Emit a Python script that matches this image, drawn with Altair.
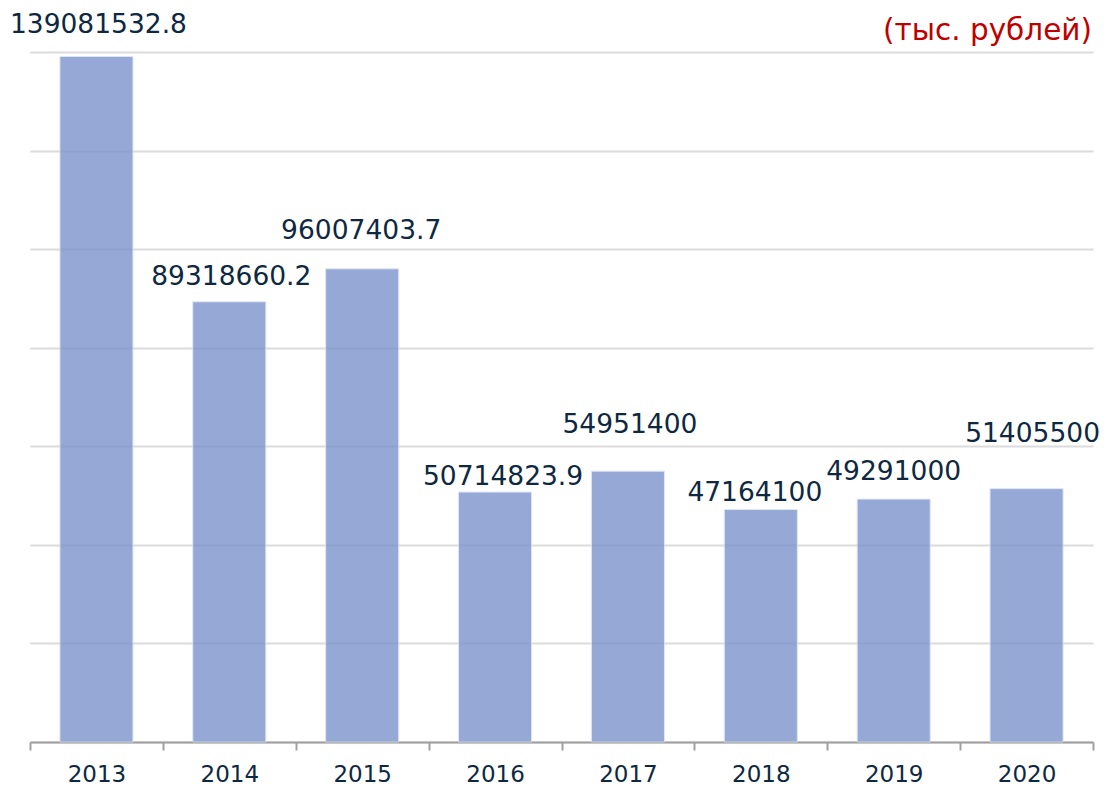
import altair as alt
import pandas as pd

years = ["2013", "2014", "2015", "2016", "2017", "2018", "2019", "2020"]
values = [139081532.8, 89318660.2, 96007403.7, 50714823.9, 54951400, 47164100, 49291000, 51405500]
labels = ["139081532.8", "89318660.2", "96007403.7", "50714823.9", "54951400", "47164100", "49291000", "51405500"]
# label placement offsets (pixels) as seen in the reference
label_dy = [-24, -17, -30, -7, -38, -9, -19, -47]
label_dx = [2, 2, -1, 8, 2, -6, 0, 6]

df = pd.DataFrame({"year": years, "value": values, "label": labels})

FONT = "DejaVu Sans"
W, H = 1063, 690

x = alt.X("year:N", sort=years, title=None,
          scale=alt.Scale(paddingInner=0, paddingOuter=0),
          axis=alt.Axis(labelAngle=0, labelFont=FONT, labelFontSize=23,
                        labelColor="#0e2841", labelPadding=13,
                        tickBand="extent", tickSize=8, tickColor="#a0a0a0",
                        tickWidth=2, domainColor="#a0a0a0", domainWidth=2,
                        grid=False))
y = alt.Y("value:Q", title=None,
          scale=alt.Scale(domain=[0, 140000000], nice=False),
          axis=alt.Axis(values=[0, 20e6, 40e6, 60e6, 80e6, 100e6, 120e6, 140e6],
                        labels=False, ticks=False, domain=False,
                        grid=True, gridColor="#dcdcdc", gridWidth=2))

base = alt.Chart(df)

bars = base.mark_bar(color="#7b93cc", opacity=0.8, stroke="#d8e0f2",
                     strokeWidth=1, width=alt.RelativeBandSize(0.55)).encode(x=x, y=y)

layers = [bars]
for yr, ddx, ddy in zip(years, label_dx, label_dy):
    layers.append(
        base.transform_filter(alt.datum.year == yr).mark_text(
            font=FONT, fontSize=26.5, color="#0e2841", align="center",
            baseline="alphabetic", dx=ddx, dy=ddy).encode(
            x=alt.X("year:N", sort=years),
            y=alt.Y("value:Q"),
            text="label:N")
    )

unit_df = pd.DataFrame({"t": ["(тыс. рублей)"]})
unit = alt.Chart(unit_df).mark_text(font=FONT, fontSize=29.5, color="#c00000",
                                    align="right", baseline="alphabetic").encode(
    x=alt.value(W - 1), y=alt.value(-12), text="t:N")
layers.append(unit)

chart = alt.layer(*layers).properties(
    width=W, height=H,
    background="white",
    autosize=alt.AutoSizeParams(type="none"),
    padding={"left": 22, "top": 44, "right": 6, "bottom": 44},
).configure_view(strokeWidth=0)

chart.save("out.html", embed_options={"renderer": "svg", "actions": False})
